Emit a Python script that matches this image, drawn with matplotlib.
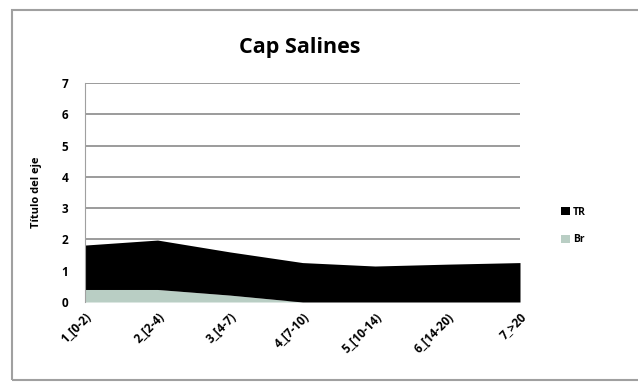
import matplotlib.pyplot as plt
from matplotlib.patches import Rectangle

cats = ['1_[0-2)', '2_[2-4)', '3_[4-7)', '4_[7-10)', '5_[10-14)', '6_[14-20)', '7_>20']
br = [0.40, 0.40, 0.22, 0.0, 0.0, 0.0, 0.0]
tr = [1.42, 1.58, 1.38, 1.26, 1.15, 1.21, 1.26]

plt.rcParams['font.family'] = ['Open Sans', 'DejaVu Sans']

fig = plt.figure(figsize=(6.38, 3.85), dpi=100)
fig.patches.append(Rectangle((12/638, 1-380/385), 640/638, 370/385, transform=fig.transFigure,
                             fill=False, edgecolor='#a0a0a0', lw=1.5))
ax = fig.add_axes([85/638, 1-302/385, 435/638, 219/385])

x = list(range(len(cats)))
top = [b + t for b, t in zip(br, tr)]
ax.fill_between(x, 0, br, color='#b9cec4', lw=0, label='Br', zorder=2)
ax.fill_between(x, br, top, color='black', lw=0, label='TR', zorder=2)

ax.set_xlim(0, len(cats) - 1)
ax.set_ylim(0, 7)
ax.set_yticks(range(8))
ax.set_xticks(x)
ax.set_xticklabels(cats, rotation=45, ha='right', rotation_mode='anchor', fontsize=8.5, fontweight='bold')
for lb in ax.get_yticklabels():
    lb.set_fontsize(8.5); lb.set_fontweight('bold')
ax.tick_params(axis='y', length=0, pad=12)
ax.tick_params(axis='x', length=0, pad=6)
ax.yaxis.grid(True, color='#8a8a8a', lw=1.2, zorder=1)
for s in ['top', 'right', 'bottom']:
    ax.spines[s].set_visible(False)
ax.spines['left'].set_color('#a0a0a0')
ax.set_ylabel('Título del eje', fontsize=8, fontweight='bold', labelpad=14)

fig.text(300/638, 1-48/385, 'Cap Salines', ha='center', va='center', fontsize=15.5, fontweight='bold')

h, l = ax.get_legend_handles_labels()
fig.legend(h[::-1], l[::-1], loc='center left', bbox_to_anchor=(552/638, 1-226/385), frameon=False,
           handlelength=0.8, handleheight=0.8, handletextpad=0.3, labelspacing=1.6,
           prop={'weight': 'bold', 'size': 7.5})

plt.savefig('out.png', dpi=100)
